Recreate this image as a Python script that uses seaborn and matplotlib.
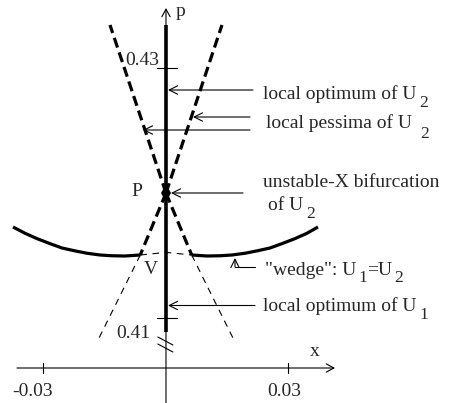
import matplotlib
matplotlib.use("Agg")
import matplotlib.pyplot as plt
import seaborn as sns

# ---- data (x, p) ----
# U1 branch: solid curve on both sides of the wedge
u1_left_x = [-0.03747, -0.03453, -0.03159, -0.02841, -0.02547, -0.02229,
             -0.01935, -0.01616, -0.01322, -0.01004, -0.0063]
u1_left_p = [0.41728, 0.41678, 0.41635, 0.41595, 0.41560, 0.41537,
             0.41518, 0.41504, 0.41498, 0.41496, 0.41504]
u1_right_x = [0.0063, 0.01004, 0.01322, 0.01616, 0.01935, 0.02229,
              0.02547, 0.02841, 0.03159, 0.03453, 0.03722]
u1_right_p = [0.41504, 0.41496, 0.41498, 0.41504, 0.41518, 0.41537,
              0.41560, 0.41595, 0.41635, 0.41678, 0.41728]
# U1 continuation between the wedge points (thin dashed roof)
u1_mid_x = [-0.0063, 0.0, 0.0063]
u1_mid_p = [0.41504, 0.41525, 0.41504]

# U2 pessima branches leaving the bifurcation point P (right-hand half, mirrored for left)
pess_up_x = [0.0, 0.00686, 0.01371]
pess_up_p = [0.4200, 0.42672, 0.43344]
pess_low_x = [0.0, 0.0063]
pess_low_p = [0.4200, 0.41504]
pess_tail_x = [0.0063, 0.0164]
pess_tail_p = [0.41504, 0.4084]

# local optimum along x = 0
opt_x = [0.0, 0.0]
opt_p = [0.4089, 0.43344]

bif_x, bif_p = 0.0, 0.4200

x_ticks = [-0.03, 0.03]
x_tick_labels = ["-0.03", "0.03"]
p_ticks = [0.43, 0.41]
p_tick_labels = ["0.43", "0.41"]

# ---- figure ----
sns.set_theme(style="white")
plt.rcParams["font.family"] = ["Liberation Serif", "DejaVu Serif"]

fig = plt.figure(figsize=(4.49, 4.03), dpi=100)
ax = fig.add_axes([0, 0, 1, 1])
ax.set_xlim(-0.04065, 0.06931)
ax.set_ylim(0.4032, 0.43544)
ax.axis("off")

FS = 14
SUB = 12.5
K = "black"
THICK = 2.3
THIN = 0.8


def line(xs, ps, lw, ls="-"):
    sns.lineplot(x=xs, y=ps, ax=ax, sort=False, estimator=None,
                 color=K, linewidth=lw, linestyle=ls, solid_capstyle="butt",
                 dash_capstyle="butt")


def neg(v):
    return [-a for a in v]


# coordinate axes
head = "->,head_length=0.55,head_width=0.3"
ax.annotate("", xy=(0.0, 0.4348), xytext=(0.0, 0.4032),
            arrowprops=dict(arrowstyle=head, color=K, lw=THIN,
                            shrinkA=0, shrinkB=0, mutation_scale=10))
ax.annotate("", xy=(0.0414, 0.4060), xytext=(-0.0365, 0.4060),
            arrowprops=dict(arrowstyle=head, color=K, lw=THIN,
                            shrinkA=0, shrinkB=0, mutation_scale=10))
for xt in x_ticks:
    ax.plot([xt, xt], [0.4056, 0.4064], color=K, lw=THIN)
for pt in p_ticks:
    ax.plot([-0.0022, 0.0027], [pt, pt], color=K, lw=THIN)

# axis break marks
for dp in (0.0, -0.00056):
    ax.plot([-0.0020, 0.0017], [0.40848 + dp, 0.40784 + dp], color=K, lw=THIN)

# curves
line(u1_left_x, u1_left_p, THICK)
line(u1_right_x, u1_right_p, THICK)
line(u1_mid_x, u1_mid_p, THIN, (0, (6, 5)))
line(opt_x, opt_p, 2.6)

thick_dash = (0, (3.2, 1.6))
thin_dash = (0, (6, 5))
for sgn in (1, -1):
    f = (lambda v: v) if sgn == 1 else neg
    line(f(pess_up_x), pess_up_p, THICK, thick_dash)
    line(f(pess_low_x), pess_low_p, THICK, thick_dash)
    line(f(pess_tail_x), pess_tail_p, THIN, thin_dash)

ax.plot([bif_x], [bif_p], marker="d", markersize=9, color=K, markeredgewidth=0)

# labels
ax.text(0.00245, 0.43448, "p", fontsize=FS, va="center", ha="left")
ax.text(0.03649, 0.40728, "x", fontsize=FS, va="center", ha="center")
ax.text(-0.0017, 0.43056, p_tick_labels[0], fontsize=FS, va="center", ha="right")
ax.text(-0.0081, 0.40872, p_tick_labels[1], fontsize=FS, va="center", ha="center")
ax.text(-0.03771, 0.40408, x_tick_labels[0], fontsize=FS, va="center", ha="left")
ax.text(0.02473, 0.40408, x_tick_labels[1], fontsize=FS, va="center", ha="left")
ax.text(-0.0071, 0.42008, "P", fontsize=FS, va="center", ha="center")
ax.text(-0.00367, 0.41384, "V", fontsize=FS, va="center", ha="center")

renderer = fig.canvas.get_renderer()


def rich(x, p, parts):
    """Draw a run of text pieces; each piece is (text, drop_px, gap_px, size)."""
    t = ax.text(x, p, parts[0][0], fontsize=FS, va="baseline", ha="left")
    _, by = ax.transData.transform((x, p))
    cur = t.get_window_extent(renderer).x1
    for s, drop, gap, size in parts[1:]:
        xd, pd = ax.transData.inverted().transform((cur + gap, by - drop))
        t = ax.text(xd, pd, s, fontsize=size, va="baseline", ha="left")
        cur = t.get_window_extent(renderer).x1


rich(0.02375, 0.42752, [("local optimum of U", 0, 0, FS), ("2", 8, 3, SUB)])
rich(0.02449, 0.42520, [("local pessima of U", 0, 0, FS), ("2", 10, 8, SUB)])
rich(0.02375, 0.42048, [("unstable-X bifurcation", 0, 0, FS)])
rich(0.02498, 0.41864, [("of U", 0, 0, FS), ("2", 8, 3, SUB)])
rich(0.02425, 0.41344, [("\"wedge\": U", 0, 0, FS), ("1", 7, 2, SUB),
                        ("=U", 0, 0, FS), ("2", 7, 2, SUB)])
rich(0.02375, 0.41056, [("local optimum of U", 0, 0, FS), ("1", 8, 3, SUB)])

# pointer arrows
arrow = dict(arrowstyle="->,head_length=0.6,head_width=0.3", color=K, lw=THIN,
             shrinkA=0, shrinkB=0, mutation_scale=10)
for x0, x1, p in [(0.02131, 0.00049, 0.42824),
                  (0.02057, 0.00661, 0.42608),
                  (0.02057, -0.00563, 0.42504),
                  (0.01886, 0.00122, 0.42000),
                  (0.02180, 0.00049, 0.41100)]:
    ax.annotate("", xy=(x1, p), xytext=(x0, p), arrowprops=arrow)
ax.plot([0.0218, 0.0169], [0.41408, 0.41408], color=K, lw=THIN)
ax.annotate("", xy=(0.0169, 0.4148), xytext=(0.0169, 0.41408), arrowprops=arrow)

fig.savefig("out.png", dpi=100)
